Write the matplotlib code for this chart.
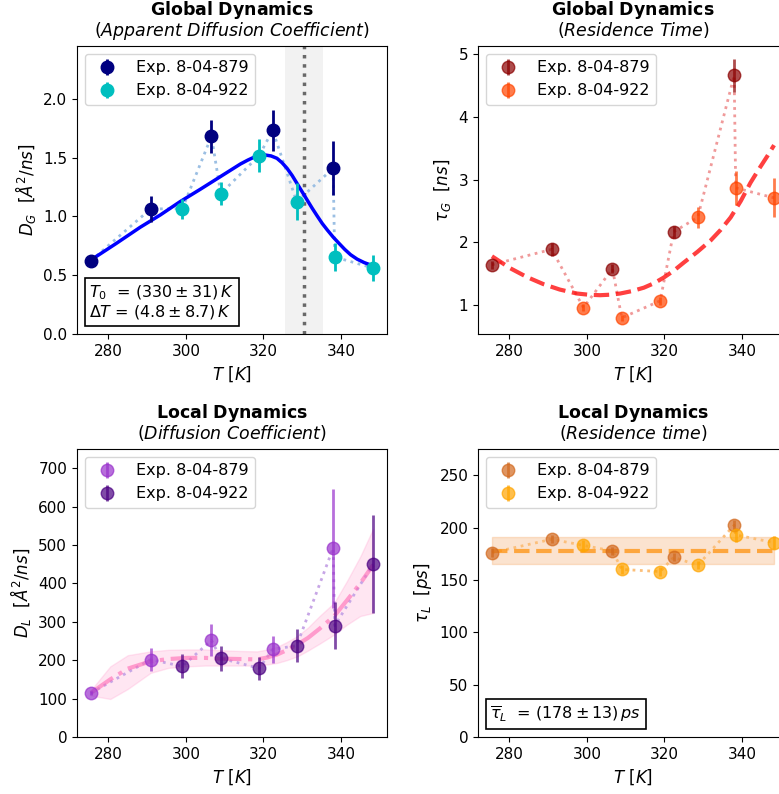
import numpy as np
import matplotlib
matplotlib.use("Agg")
from matplotlib import pyplot as plt

# temperatures of the two experiments
T_879 = [275.5, 290.9, 306.6, 322.4, 338.0]
T_922 = [299.1, 309.0, 318.9, 328.6, 338.4, 348.3]

# global diffusion coefficient D_G [A^2/ns]
DG_879 = [0.624, 1.064, 1.682, 1.733, 1.41]
DG_879_err = [0.03, 0.11, 0.14, 0.175, 0.23]
DG_922 = [1.067, 1.194, 1.518, 1.126, 0.655, 0.562]
DG_922_err = [0.085, 0.10, 0.14, 0.16, 0.12, 0.11]
DG_fit_T = [275.5, 282.0, 288.2, 293.4, 298.5, 303.7, 308.9, 314.1, 316.0, 317.5,
            319.0, 320.5, 322.0, 323.5, 324.8, 326.1, 327.4, 328.7, 330.0, 331.3,
            332.6, 333.9, 335.2, 336.5, 338.0, 339.5, 341.0, 342.5, 344.2, 346.0, 348.3]
DG_fit = [0.63, 0.77, 0.908, 1.013, 1.126, 1.231, 1.339, 1.447, 1.48, 1.503,
          1.518, 1.523, 1.515, 1.495, 1.458, 1.41, 1.35, 1.28, 1.21, 1.14,
          1.07, 1.004, 0.94, 0.885, 0.825, 0.772, 0.72, 0.675, 0.637, 0.608, 0.58]
T0, T0_band = 330.5, 4.8

# global residence time tau_G [ns]
tG_879 = [1.645, 1.89, 1.58, 2.17, 4.66]
tG_879_err = [0.06, 0.10, 0.07, 0.10, 0.26]
tG_922 = [0.963, 0.80, 1.07, 2.40, 2.87, 2.71]
tG_922_err = [0.05, 0.05, 0.06, 0.17, 0.27, 0.31]
tG_fit_T = [275.5, 280.2, 284.5, 288.8, 293.0, 297.4, 300.4, 303.4, 306.0, 308.6,
            311.6, 314.7, 317.3, 319.8, 322.4, 325.0, 328.5, 331.9, 334.5, 337.1,
            339.7, 342.2, 344.5, 346.5, 348.3]
tG_fit = [1.78, 1.59, 1.45, 1.336, 1.25, 1.187, 1.168, 1.16, 1.168, 1.187,
          1.225, 1.28, 1.35, 1.44, 1.55, 1.68, 1.85, 2.03, 2.20, 2.40,
          2.66, 2.95, 3.18, 3.37, 3.55]

# local diffusion coefficient D_L [A^2/ns]
DL_879 = [114.8, 201.7, 252.0, 228.0, 492.0]
DL_879_err = [6, 29, 42, 36, 155]
DL_922 = [184.0, 205.0, 179.0, 238.0, 290.0, 450.0]
DL_922_err = [31, 33, 30, 44, 61, 128]
DL_fit_T = [275.5, 280.5, 285.0, 290.9, 295.5, 300.3, 305.0, 309.0, 314.0, 318.4,
            321.0, 323.6, 326.0, 328.8, 331.5, 334.5, 338.3, 341.5, 345.0, 348.3]
DL_fit = [114.8, 150.0, 178.0, 197.0, 203.0, 206.0, 206.0, 204.0, 203.0, 202.0,
          207.0, 215.0, 226.0, 241.0, 258.0, 282.0, 315.0, 355.0, 400.0, 448.0]
DL_lo = [108.0, 99.0, 125.0, 167.0, 180.0, 184.0, 186.0, 186.0, 186.0, 186.0,
         189.0, 193.0, 200.0, 210.0, 225.0, 243.0, 267.0, 292.0, 315.0, 323.0]
DL_hi = [122.0, 184.0, 213.0, 223.0, 227.0, 228.0, 228.0, 226.0, 224.0, 223.0,
         228.0, 235.0, 247.0, 263.0, 285.0, 315.0, 350.0, 405.0, 470.0, 542.0]

# local residence time tau_L [ps]
tL_879 = [176.0, 188.8, 177.6, 171.6, 202.2]
tL_879_err = [4, 4, 4, 4, 5]
tL_922 = [183.0, 160.0, 158.0, 164.0, 193.0, 185.6]
tL_922_err = [5, 4, 4, 4, 7, 6]
tL_mean, tL_sd = 178.0, 13.0

plt.rcParams['font.size'] = 11
fig = plt.figure(figsize=(7.79, 7.94), dpi=100)
W, H = 0.398, 0.3627
ax1 = fig.add_axes([0.0988, 0.5793, W, H])
ax2 = fig.add_axes([0.6136, 0.5793, W, H])
ax3 = fig.add_axes([0.0988, 0.0718, W, H])
ax4 = fig.add_axes([0.6136, 0.0718, W, H])


def joined(ax, y1, y2, color):
    T = np.array(T_879 + T_922)
    y = np.array(y1 + y2)
    idx = np.argsort(T)
    ax.plot(T[idx], y[idx], ':', color=color, lw=2, zorder=1)


def points(ax, y1, e1, c1, y2, e2, c2, a=1.0):
    ax.errorbar(T_879, y1, yerr=e1, fmt='o', ms=9, elinewidth=2, color=c1,
                alpha=a, label='Exp. 8-04-879', zorder=3)
    ax.errorbar(T_922, y2, yerr=e2, fmt='o', ms=9, elinewidth=2, color=c2,
                alpha=a, label='Exp. 8-04-922', zorder=3)


def title(ax, a, b):
    ax.annotate(r'$\bf{' + a.replace(' ', r'\ ') + '}$', xy=(0.5, 1), xycoords='axes fraction',
                xytext=(0, 22.5), textcoords='offset points', ha='center', va='baseline',
                fontsize=12.5, annotation_clip=False)
    ax.annotate('($\\it{' + b.replace(' ', r'\ ') + '}$)', xy=(0.5, 1), xycoords='axes fraction',
                xytext=(0, 7.5), textcoords='offset points', ha='center', va='baseline',
                fontsize=12.5, annotation_clip=False)


# top left
ax1.axvspan(T0 - T0_band, T0 + T0_band, color='grey', alpha=0.1, lw=0)
ax1.axvline(T0, color='dimgrey', ls=':', lw=2.5)
joined(ax1, DG_879, DG_922, '#9bbfe3')
ax1.plot(DG_fit_T, DG_fit, color='blue', lw=2.5, zorder=2)
points(ax1, DG_879, DG_879_err, 'navy', DG_922, DG_922_err, 'c')
ax1.set_ylim(0, 2.45)
ax1.set_yticks([0.0, 0.5, 1.0, 1.5, 2.0])
ax1.set_ylabel(r'$D_G\ \ [\AA^2/ns]$', fontsize=12)
ax1.text(0.04, 0.045, '$T_0$  = $(330 \\pm 31)\\,K$\n$\\Delta T$ = $(4.8 \\pm 8.7)\\,K$',
         transform=ax1.transAxes, fontsize=11.5, va='bottom', ha='left', linespacing=1.1,
         bbox=dict(boxstyle='square,pad=0.3', fc='white', ec='black', lw=1.2))
title(ax1, 'Global Dynamics', 'Apparent Diffusion Coefficient')

# top right
joined(ax2, tG_879, tG_922, '#f09a9a')
ax2.plot(tG_fit_T, tG_fit, '--', color='red', alpha=0.75, lw=3, zorder=2)
points(ax2, tG_879, tG_879_err, 'darkred', tG_922, tG_922_err, 'orangered', a=0.7)
ax2.set_yticks([1, 2, 3, 4, 5])
ax2.set_ylabel(r'$\tau_G\ \ [ns]$', fontsize=12)
title(ax2, 'Global Dynamics', 'Residence Time')

# bottom left
ax3.fill_between(DL_fit_T, DL_lo, DL_hi, color='hotpink', alpha=0.16, lw=1, zorder=0)
joined(ax3, DL_879, DL_922, '#c7a6e6')
ax3.plot(DL_fit_T, DL_fit, '-.', color='hotpink', alpha=0.6, lw=3, zorder=2)
points(ax3, DL_879, DL_879_err, 'darkorchid', DL_922, DL_922_err, 'indigo', a=0.7)
ax3.set_ylim(0, 750)
ax3.set_yticks(range(0, 701, 100))
ax3.set_ylabel(r'$D_L\ \ [\AA^2/ns]$', fontsize=12)
title(ax3, 'Local Dynamics', 'Diffusion Coefficient')

# bottom right
span = [min(T_879 + T_922), max(T_879 + T_922)]
ax4.fill_between(span, tL_mean - tL_sd, tL_mean + tL_sd, color='sandybrown', alpha=0.3,
                 lw=1, zorder=0)
joined(ax4, tL_879, tL_922, '#fbbf7a')
ax4.plot(span, [tL_mean, tL_mean], '--', color='darkorange', alpha=0.7, lw=3, zorder=2)
points(ax4, tL_879, tL_879_err, 'chocolate', tL_922, tL_922_err, 'orange', a=0.7)
ax4.set_ylim(0, 275)
ax4.set_yticks(range(0, 251, 50))
ax4.set_ylabel(r'$\tau_L\ \ [ps]$', fontsize=12)
ax4.text(0.04, 0.045, r'$\overline{\tau}_L$  = $(178 \pm 13)\,ps$',
         transform=ax4.transAxes, fontsize=11.5, va='bottom', ha='left',
         bbox=dict(boxstyle='square,pad=0.3', fc='white', ec='black', lw=1.2))
title(ax4, 'Local Dynamics', 'Residence time')

for ax in (ax1, ax2, ax3, ax4):
    ax.set_xlim(271.9, 351.9)
    ax.set_xticks([280, 300, 320, 340])
    ax.set_xlabel(r'$T\ [K]$', fontsize=12)
    ax.legend(loc='upper left', fontsize=11.5)

fig.savefig('out.png', dpi=100)
